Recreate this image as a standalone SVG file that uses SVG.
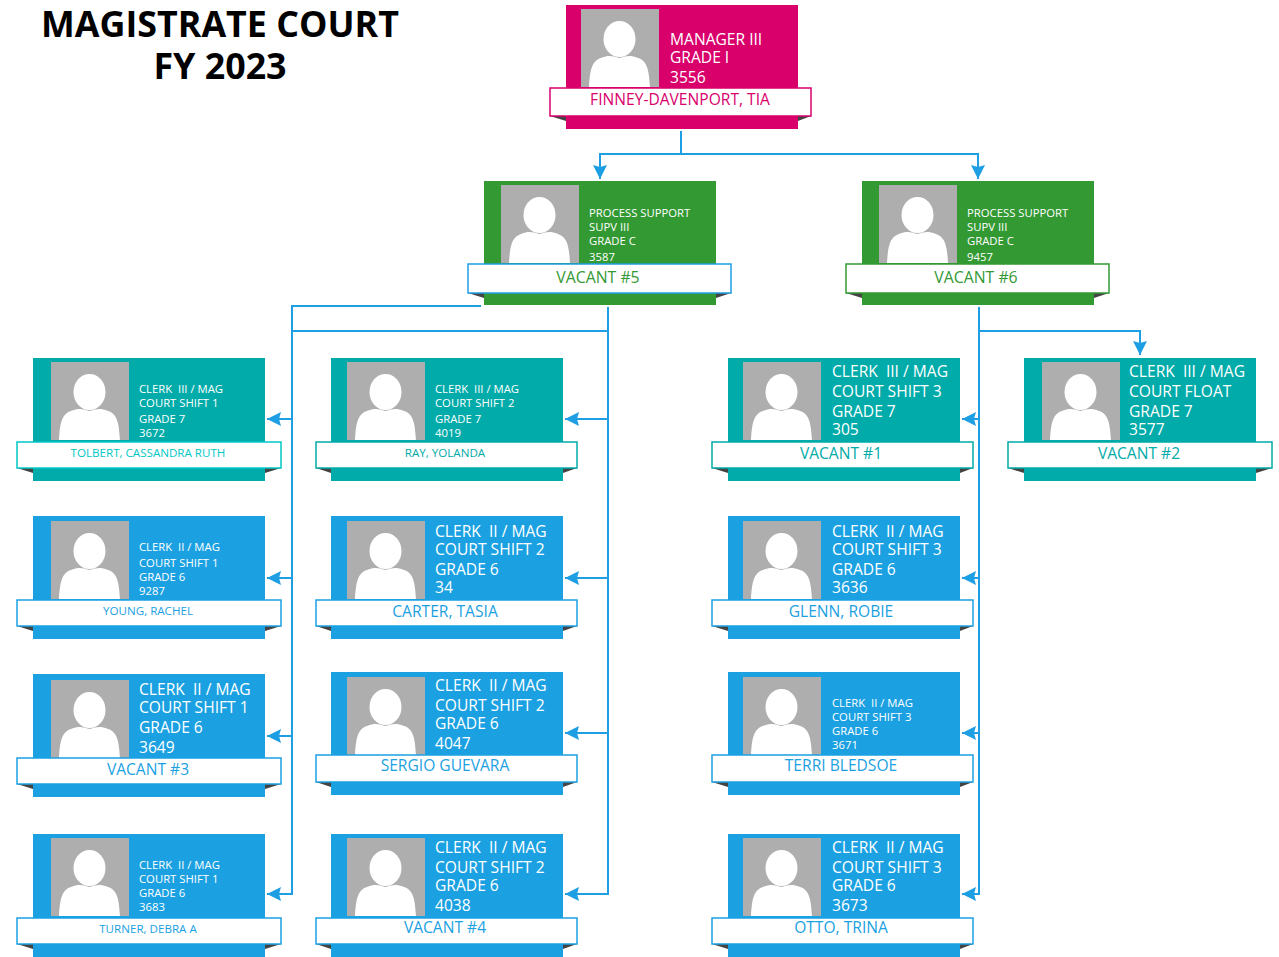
<svg xmlns="http://www.w3.org/2000/svg" width="1279" height="957" viewBox="0 0 1279 957">
<style>
text{font-family:"Open Sans","Noto Sans","Liberation Sans",sans-serif;white-space:pre}
.title{font-size:35.800px;font-weight:700;fill:#000;text-anchor:middle}
.s{font-size:11.300px;fill:#fff}
.l{font-size:15.600px;fill:#fff}
.m{font-size:15.600px;fill:#fff}
.nm{text-anchor:middle}
.n14{font-size:15.600px}
.n15{font-size:15.800px}
.n10{font-size:11.600px}
.pink{fill:#d9006c}.green{fill:#339933}.teal{fill:#00aba9}.blue{fill:#1ba1e2}
.band{fill:#fff;stroke-width:1.500}
.conn{fill:none;stroke:#1f9fe3;stroke-width:2}
.fold{fill:#444}
</style>
<defs>
<marker id="arr" markerUnits="userSpaceOnUse" markerWidth="16" markerHeight="16" refX="14" refY="8" orient="auto"><path d="M0 1L14 8L0 15L2 8Z" fill="#1f9fe3"/></marker>
<g id="photo"><rect width="78" height="78" fill="#aeaeae"/><ellipse cx="38.500" cy="30" rx="16" ry="18" fill="#fff"/><path d="M8 78C9 60 11 52 20 49C28 46 31 47 38.500 49C46 47 49 46 57 49C66 52 68 60 69 78Z" fill="#fff"/></g>
</defs>
<g id="title"><text class="title" x="220" y="37">MAGISTRATE COURT</text><text class="title" x="220" y="79">FY 2023</text></g>
<g id="connectors">
<path class="conn" d="M681 131V154H600V179" marker-end="url(#arr)"/>
<path class="conn" d="M681 154H978V179" marker-end="url(#arr)"/>
<path class="conn" d="M481 306H292V894H267" marker-end="url(#arr)"/>
<path class="conn" d="M292 419H267" marker-end="url(#arr)"/>
<path class="conn" d="M292 578H267" marker-end="url(#arr)"/>
<path class="conn" d="M292 736H267" marker-end="url(#arr)"/>
<path class="conn" d="M292 331H608"/>
<path class="conn" d="M608 307V894H565" marker-end="url(#arr)"/>
<path class="conn" d="M608 419H565" marker-end="url(#arr)"/>
<path class="conn" d="M608 578H565" marker-end="url(#arr)"/>
<path class="conn" d="M608 733H565" marker-end="url(#arr)"/>
<path class="conn" d="M979 307V894H962" marker-end="url(#arr)"/>
<path class="conn" d="M979 419H962" marker-end="url(#arr)"/>
<path class="conn" d="M979 578H962" marker-end="url(#arr)"/>
<path class="conn" d="M979 733H962" marker-end="url(#arr)"/>
<path class="conn" d="M979 331H1140V355" marker-end="url(#arr)"/>
</g>
<g id="n-finney"><rect class="pink" x="566" y="5" width="232" height="124"/><use href="#photo" x="581" y="9"/><text class="m" x="670" y="45">MANAGER III</text><text class="m" x="670" y="63">GRADE I</text><text class="m" x="670" y="83">3556</text><path class="fold" d="M550 116l16 5v-5ZM811 116l-13 5v-5Z"/><rect class="band" x="550" y="88" width="261" height="28" stroke="#d9006c"/><text class="nm n14" x="680" y="105" fill="#d9006c">FINNEY-DAVENPORT, TIA</text></g>
<g id="n-vacant5"><rect class="green" x="484" y="181" width="232" height="124"/><use href="#photo" x="501" y="185"/><text class="s" x="589" y="217">PROCESS SUPPORT</text><text class="s" x="589" y="231">SUPV III</text><text class="s" x="589" y="245">GRADE C</text><text class="s" x="589" y="261">3587</text><path class="fold" d="M468 293l16 5v-5ZM731 293l-15 5v-5Z"/><rect class="band" x="468" y="264" width="263" height="29" stroke="#1f9fe3"/><text class="nm n15" x="598" y="283" fill="#339933">VACANT #5</text></g>
<g id="n-vacant6"><rect class="green" x="862" y="181" width="232" height="124"/><use href="#photo" x="879" y="185"/><text class="s" x="967" y="217">PROCESS SUPPORT</text><text class="s" x="967" y="231">SUPV III</text><text class="s" x="967" y="245">GRADE C</text><text class="s" x="967" y="261">9457</text><path class="fold" d="M846 293l16 5v-5ZM1109 293l-15 5v-5Z"/><rect class="band" x="846" y="264" width="263" height="29" stroke="#339933"/><text class="nm n15" x="976" y="283" fill="#339933">VACANT #6</text></g>
<g id="n-tolbert"><rect class="teal" x="33" y="358" width="232" height="123"/><use href="#photo" x="51" y="362"/><text class="s" x="139" y="393">CLERK  III / MAG</text><text class="s" x="139" y="407">COURT SHIFT 1</text><text class="s" x="139" y="423">GRADE 7</text><text class="s" x="139" y="437">3672</text><path class="fold" d="M17 468l16 5v-5ZM281 468l-16 5v-5Z"/><rect class="band" x="17" y="442" width="264" height="26" stroke="#00c8c6"/><text class="nm n10" x="148" y="457" fill="#00c8c6">TOLBERT, CASSANDRA RUTH</text></g>
<g id="n-ray"><rect class="teal" x="331" y="358" width="232" height="123"/><use href="#photo" x="347" y="362"/><text class="s" x="435" y="393">CLERK  III / MAG</text><text class="s" x="435" y="407">COURT SHIFT 2</text><text class="s" x="435" y="423">GRADE 7</text><text class="s" x="435" y="437">4019</text><path class="fold" d="M316 468l15 5v-5ZM577 468l-14 5v-5Z"/><rect class="band" x="316" y="442" width="261" height="26" stroke="#00aba9"/><text class="nm n10" x="445" y="457" fill="#00aba9">RAY, YOLANDA</text></g>
<g id="n-vacant1"><rect class="teal" x="728" y="358" width="232" height="123"/><use href="#photo" x="743" y="362"/><text class="l" x="832" y="377">CLERK  III / MAG</text><text class="l" x="832" y="397">COURT SHIFT 3</text><text class="l" x="832" y="417">GRADE 7</text><text class="l" x="832" y="435">305</text><path class="fold" d="M712 468l16 5v-5ZM973 468l-13 5v-5Z"/><rect class="band" x="712" y="442" width="261" height="26" stroke="#00aba9"/><text class="nm n14" x="841" y="459" fill="#00aba9">VACANT #1</text></g>
<g id="n-vacant2"><rect class="teal" x="1024" y="358" width="232" height="123"/><use href="#photo" x="1042" y="362"/><text class="l" x="1129" y="377">CLERK  III / MAG</text><text class="l" x="1129" y="397">COURT FLOAT</text><text class="l" x="1129" y="417">GRADE 7</text><text class="l" x="1129" y="435">3577</text><path class="fold" d="M1008 468l16 5v-5ZM1272 468l-16 5v-5Z"/><rect class="band" x="1008" y="442" width="264" height="26" stroke="#00aba9"/><text class="nm n14" x="1139" y="459" fill="#00aba9">VACANT #2</text></g>
<g id="n-young"><rect class="blue" x="33" y="516" width="232" height="123"/><use href="#photo" x="51" y="521"/><text class="s" x="139" y="551">CLERK  II / MAG</text><text class="s" x="139" y="567">COURT SHIFT 1</text><text class="s" x="139" y="581">GRADE 6</text><text class="s" x="139" y="595">9287</text><path class="fold" d="M17 626l16 5v-5ZM281 626l-16 5v-5Z"/><rect class="band" x="17" y="600" width="264" height="26" stroke="#1ba1e2"/><text class="nm n10" x="148" y="615" fill="#1ba1e2">YOUNG, RACHEL</text></g>
<g id="n-carter"><rect class="blue" x="331" y="516" width="232" height="123"/><use href="#photo" x="347" y="521"/><text class="l" x="435" y="537">CLERK  II / MAG</text><text class="l" x="435" y="555">COURT SHIFT 2</text><text class="l" x="435" y="575">GRADE 6</text><text class="l" x="435" y="593">34</text><path class="fold" d="M316 626l15 5v-5ZM577 626l-14 5v-5Z"/><rect class="band" x="316" y="600" width="261" height="26" stroke="#1ba1e2"/><text class="nm n14" x="445" y="617" fill="#1ba1e2">CARTER, TASIA</text></g>
<g id="n-glenn"><rect class="blue" x="728" y="516" width="232" height="123"/><use href="#photo" x="743" y="521"/><text class="l" x="832" y="537">CLERK  II / MAG</text><text class="l" x="832" y="555">COURT SHIFT 3</text><text class="l" x="832" y="575">GRADE 6</text><text class="l" x="832" y="593">3636</text><path class="fold" d="M712 626l16 5v-5ZM973 626l-13 5v-5Z"/><rect class="band" x="712" y="600" width="261" height="26" stroke="#1ba1e2"/><text class="nm n14" x="841" y="617" fill="#1ba1e2">GLENN, ROBIE</text></g>
<g id="n-vacant3"><rect class="blue" x="33" y="674" width="232" height="123"/><use href="#photo" x="51" y="680"/><text class="l" x="139" y="695">CLERK  II / MAG</text><text class="l" x="139" y="713">COURT SHIFT 1</text><text class="l" x="139" y="733">GRADE 6</text><text class="l" x="139" y="753">3649</text><path class="fold" d="M17 784l16 5v-5ZM281 784l-16 5v-5Z"/><rect class="band" x="17" y="758" width="264" height="26" stroke="#1ba1e2"/><text class="nm n14" x="148" y="775" fill="#1ba1e2">VACANT #3</text></g>
<g id="n-guevara"><rect class="blue" x="331" y="672" width="232" height="123"/><use href="#photo" x="347" y="677"/><text class="l" x="435" y="691">CLERK  II / MAG</text><text class="l" x="435" y="711">COURT SHIFT 2</text><text class="l" x="435" y="729">GRADE 6</text><text class="l" x="435" y="749">4047</text><path class="fold" d="M316 782l15 5v-5ZM577 782l-14 5v-5Z"/><rect class="band" x="316" y="755" width="261" height="27" stroke="#1ba1e2"/><text class="nm n14" x="445" y="771" fill="#1ba1e2">SERGIO GUEVARA</text></g>
<g id="n-bledsoe"><rect class="blue" x="728" y="672" width="232" height="123"/><use href="#photo" x="743" y="677"/><text class="s" x="832" y="707">CLERK  II / MAG</text><text class="s" x="832" y="721">COURT SHIFT 3</text><text class="s" x="832" y="735">GRADE 6</text><text class="s" x="832" y="749">3671</text><path class="fold" d="M712 782l16 5v-5ZM973 782l-13 5v-5Z"/><rect class="band" x="712" y="755" width="261" height="27" stroke="#1ba1e2"/><text class="nm n14" x="841" y="771" fill="#1ba1e2">TERRI BLEDSOE</text></g>
<g id="n-turner"><rect class="blue" x="33" y="834" width="232" height="123"/><use href="#photo" x="51" y="838"/><text class="s" x="139" y="869">CLERK  II / MAG</text><text class="s" x="139" y="883">COURT SHIFT 1</text><text class="s" x="139" y="897">GRADE 6</text><text class="s" x="139" y="911">3683</text><path class="fold" d="M17 944l16 5v-5ZM281 944l-16 5v-5Z"/><rect class="band" x="17" y="918" width="264" height="26" stroke="#1ba1e2"/><text class="nm n10" x="148" y="933" fill="#1ba1e2">TURNER, DEBRA A</text></g>
<g id="n-vacant4"><rect class="blue" x="331" y="834" width="232" height="123"/><use href="#photo" x="347" y="838"/><text class="l" x="435" y="853">CLERK  II / MAG</text><text class="l" x="435" y="873">COURT SHIFT 2</text><text class="l" x="435" y="891">GRADE 6</text><text class="l" x="435" y="911">4038</text><path class="fold" d="M316 944l15 5v-5ZM577 944l-14 5v-5Z"/><rect class="band" x="316" y="918" width="261" height="26" stroke="#1ba1e2"/><text class="nm n14" x="445" y="933" fill="#1ba1e2">VACANT #4</text></g>
<g id="n-otto"><rect class="blue" x="728" y="834" width="232" height="123"/><use href="#photo" x="743" y="838"/><text class="l" x="832" y="853">CLERK  II / MAG</text><text class="l" x="832" y="873">COURT SHIFT 3</text><text class="l" x="832" y="891">GRADE 6</text><text class="l" x="832" y="911">3673</text><path class="fold" d="M712 944l16 5v-5ZM973 944l-13 5v-5Z"/><rect class="band" x="712" y="918" width="261" height="26" stroke="#1ba1e2"/><text class="nm n14" x="841" y="933" fill="#1ba1e2">OTTO, TRINA</text></g>
</svg>
